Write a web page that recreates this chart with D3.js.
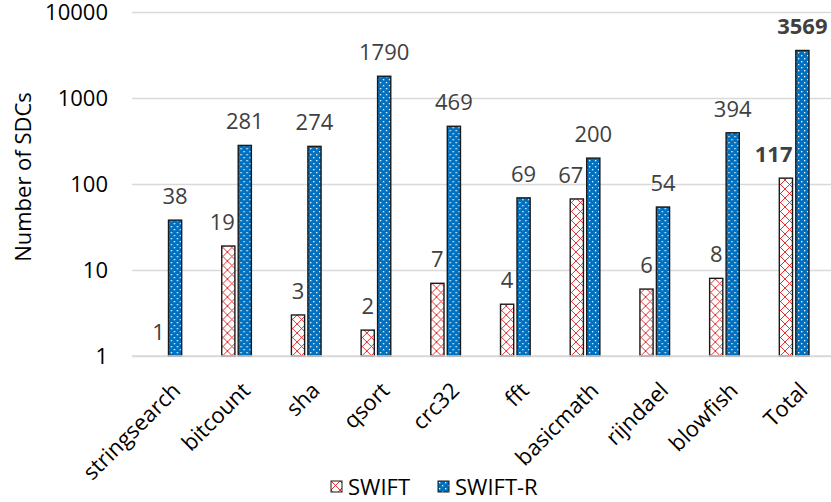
<!DOCTYPE html>
<html>
<head>
<meta charset="utf-8">
<script src="https://cdn.jsdelivr.net/npm/d3@7"></script>
<style>
  body { margin: 0; background: #fff; }
  text { font-family: "Open Sans", sans-serif; }
</style>
</head>
<body>
<div id="chart"></div>
<script>
// Data
const categories = ["stringsearch", "bitcount", "sha", "qsort", "crc32", "fft", "basicmath", "rijndael", "blowfish", "Total"]
const series = ["SWIFT", "SWIFT-R"]
const swift = [1, 19, 3, 2, 7, 4, 67, 6, 8, 117]
const swiftR = [38, 281, 274, 1790, 469, 69, 200, 54, 394, 3569]
const yTicks = [1, 10, 100, 1000, 10000]

const rows = categories.map((c, i) => ({ cat: c, values: [swift[i], swiftR[i]] }))

// Dimensions
const width = 831, height = 502
const plot = { left: 132, right: 829, top: 12, bottom: 356 }
const fs = 22

const svg = d3.select('#chart')
  .append('svg')
  .attr('width', width)
  .attr('height', height)

// patterns
const defs = svg.append('defs')

const hatch = defs.append('pattern')
  .attr('id', 'hatch')
  .attr('patternUnits', 'userSpaceOnUse')
  .attr('width', 9)
  .attr('height', 9)
hatch.append('rect').attr('width', 9).attr('height', 9).attr('fill', '#fff')
hatch.append('path')
  .attr('d', 'M0,9 L9,0 M0,0 L9,9')
  .attr('stroke', '#e01818')
  .attr('stroke-width', 0.9)
  .attr('fill', 'none')

const dots = defs.append('pattern')
  .attr('id', 'dots')
  .attr('patternUnits', 'userSpaceOnUse')
  .attr('width', 6)
  .attr('height', 6)
dots.append('rect').attr('width', 6).attr('height', 6).attr('fill', '#0070c0')
dots.append('rect').attr('x', 1).attr('y', 1).attr('width', 1.3).attr('height', 1.3).attr('fill', '#fff')
dots.append('rect').attr('x', 4).attr('y', 4).attr('width', 1.3).attr('height', 1.3).attr('fill', '#fff')

const fills = ['url(#hatch)', 'url(#dots)']

// scales
const x0 = d3.scaleBand()
  .domain(categories)
  .range([plot.left, plot.right])
  .paddingInner(0.48)
  .paddingOuter(0.24)

const x1 = d3.scaleBand()
  .domain(series)
  .range([0, x0.bandwidth()])
  .padding(0.2)

const y = d3.scaleLog()
  .domain([1, 10000])
  .range([plot.bottom, plot.top])

// gridlines + y labels
const yAxis = svg.append('g')
  .attr('transform', `translate(${plot.left},0)`)
  .call(d3.axisLeft(y).tickValues(yTicks).tickFormat(d3.format('d')).tickSize(-(width - plot.left)).tickPadding(24))
yAxis.select('.domain').remove()
yAxis.selectAll('.tick line').attr('stroke', '#d9d9d9').attr('stroke-width', 1.3)
yAxis.selectAll('.tick text')
  .attr('font-size', fs)
  .attr('fill', '#000')
  .style('font-family', '"Open Sans", sans-serif')

// bars
const groups = svg.append('g')
  .selectAll('g')
  .data(rows)
  .join('g')
  .attr('transform', d => `translate(${x0(d.cat)},0)`)

groups.selectAll('rect')
  .data(d => d.values.map((v, i) => ({ key: series[i], v, i })))
  .join('rect')
  .attr('x', d => x1(d.key))
  .attr('y', d => y(d.v))
  .attr('width', x1.bandwidth())
  .attr('height', d => y(1) - y(d.v))
  .attr('fill', d => fills[d.i])
  .attr('stroke', '#1a1a1a')
  .attr('stroke-width', 1.4)

// value labels; SWIFT labels wider than the bar are pulled left so they
// don't run into the SWIFT-R bar (like excel does)
groups.selectAll('text.val')
  .data(d => d.values.map((v, i) => ({ key: series[i], v, i, total: d.cat === 'Total' })))
  .join('text')
  .attr('class', 'val')
  .attr('y', d => y(d.v) - 16)
  .attr('text-anchor', 'middle')
  .attr('font-size', fs)
  .attr('font-weight', d => d.total ? 'bold' : 'normal')
  .attr('fill', '#404040')
  .text(d => d.v)
  .attr('x', function(d) {
    const c = x1(d.key) + x1.bandwidth() / 2
    if (d.i === 1) return c
    const w = this.getComputedTextLength()
    return Math.min(c, x1(d.key) + x1.bandwidth() - w / 2)
  })

// x axis line
svg.append('line')
  .attr('x1', plot.left).attr('x2', width)
  .attr('y1', plot.bottom).attr('y2', plot.bottom)
  .attr('stroke', '#d9d9d9')
  .attr('stroke-width', 1.3)

// x labels
svg.append('g')
  .selectAll('text')
  .data(categories)
  .join('text')
  .attr('transform', d => `translate(${x0(d) + x0.bandwidth() / 2 + 4},${plot.bottom + 25}) rotate(-45)`)
  .attr('text-anchor', 'end')
  .attr('dy', '0.7em')
  .attr('font-size', fs)
  .attr('fill', '#000')
  .text(d => d)

// y title
svg.append('text')
  .attr('transform', `translate(31,177) rotate(-90)`)
  .attr('text-anchor', 'middle')
  .attr('font-size', fs)
  .attr('fill', '#000')
  .text('Number of SDCs')

// legend
const legend = svg.append('g')
  .selectAll('g')
  .data(series)
  .join('g')
  .attr('transform', (d, i) => `translate(${[331, 438][i]},481)`)

legend.append('rect')
  .attr('width', 11)
  .attr('height', 11)
  .attr('fill', (d, i) => fills[i])
  .attr('stroke', '#1a1a1a')
  .attr('stroke-width', 1)

legend.append('text')
  .attr('x', 17)
  .attr('y', 6)
  .attr('dy', '0.35em')
  .attr('font-size', fs)
  .attr('fill', '#000')
  .text(d => d)
</script>
</body>
</html>
